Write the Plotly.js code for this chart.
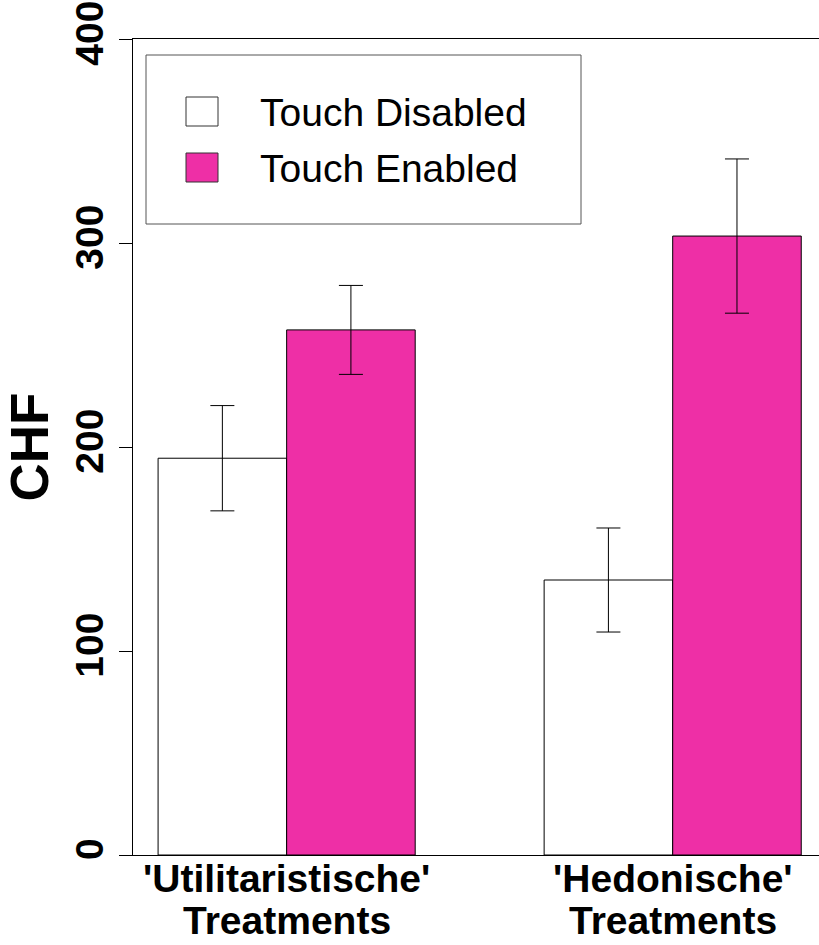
<!DOCTYPE html>
<html>
<head>
<meta charset="utf-8">
<script src="https://cdn.plot.ly/plotly-3.0.1.min.js"></script>
<style>
  html, body { margin: 0; padding: 0; background: #ffffff; }
  #chart { width: 819px; height: 945px; }
</style>
</head>
<body>
<div id="chart"></div>
<script>
// Treatment groups (category axis) and the second line of each label
const categories = ["'Utilitaristische'", "'Hedonische'"];
const labelLine2 = ["Treatments", "Treatments"];

// Series names
const seriesNames = ["Touch Disabled", "Touch Enabled"];

// Mean amount in CHF per group
const disabledMeans = [194.5, 134.8];
const enabledMeans = [257.4, 303.4];

// Error bar half-lengths (CHF)
const disabledErr = [25.8, 25.5];
const enabledErr = [21.8, 37.8];

// Y axis ticks
const yTicks = [0, 100, 200, 300, 400];

const PINK = '#EE2FA6';
const FONT = 'Liberation Sans, Arial, sans-serif';

// Plot-area geometry in pixels, used to place the hand-built legend
const W = 819, H = 945;
const M = { l: 133, r: 0, t: 39, b: 90 };
const pw = W - M.l - M.r, ph = H - M.t - M.b;
const px = x => (x - M.l) / pw;
const py = y => (H - M.b - y) / ph;

const errStyle = { type: 'data', visible: true, color: '#000000', thickness: 1, width: 12 };

const traces = [
  {
    type: 'bar', name: seriesNames[0], x: categories, y: disabledMeans,
    marker: { color: '#ffffff', line: { color: '#000000', width: 1 } },
    error_y: Object.assign({ array: disabledErr }, errStyle),
    showlegend: false, hoverinfo: 'none'
  },
  {
    type: 'bar', name: seriesNames[1], x: categories, y: enabledMeans,
    marker: { color: PINK, line: { color: '#000000', width: 1 } },
    error_y: Object.assign({ array: enabledErr }, errStyle),
    showlegend: false, hoverinfo: 'none'
  }
];

const annotations = [];
// two-line category labels under the axis
categories.forEach((c, i) => {
  annotations.push({
    x: c, xref: 'x', y: py(855), yref: 'paper', yanchor: 'top', xanchor: 'center',
    text: '<b>' + c + '</b>', showarrow: false,
    font: { family: FONT, size: 39, color: '#000' }
  });
  annotations.push({
    x: c, xref: 'x', y: py(897), yref: 'paper', yanchor: 'top', xanchor: 'center',
    text: '<b>' + labelLine2[i] + '</b>', showarrow: false,
    font: { family: FONT, size: 39, color: '#000' }
  });
});
// legend entries
const legendFills = ['#ffffff', PINK];
const legendRows = [112, 168];
const shapes = [
  { type: 'rect', xref: 'paper', yref: 'paper', x0: px(146), x1: px(581), y0: py(55), y1: py(224),
    line: { color: '#555555', width: 1 }, fillcolor: 'rgba(0,0,0,0)' }
];
seriesNames.forEach((n, i) => {
  const cy = legendRows[i];
  shapes.push({ type: 'rect', xref: 'paper', yref: 'paper', x0: px(186), x1: px(218),
    y0: py(cy - 15), y1: py(cy + 14), line: { color: '#333333', width: 1 }, fillcolor: legendFills[i] });
  annotations.push({ x: px(258), xref: 'paper', y: py(cy), yref: 'paper', xanchor: 'left', yanchor: 'middle',
    text: n, showarrow: false, font: { family: FONT, size: 39, color: '#000' } });
});

const layout = {
  width: W, height: H,
  margin: M,
  paper_bgcolor: '#ffffff', plot_bgcolor: '#ffffff',
  font: { family: FONT, color: '#000' },
  barmode: 'group', bargap: 0.334, bargroupgap: 0,
  showlegend: false,
  xaxis: {
    type: 'category', range: [-0.398, 1.379],
    showline: true, linecolor: '#000', linewidth: 1, mirror: true,
    ticks: '', showticklabels: false, showgrid: false, zeroline: false, fixedrange: true
  },
  yaxis: {
    range: [0, 400], tickvals: yTicks, ticktext: yTicks.map(v => '<b>' + v + '</b>'),
    tickangle: -90, ticks: 'outside', ticklen: 13, tickcolor: '#000', tickwidth: 1,
    tickfont: { family: FONT, size: 39, color: '#000' },
    showline: true, linecolor: '#000', linewidth: 1, mirror: false,
    showgrid: false, zeroline: false, fixedrange: true,
    title: { text: '<b>CHF</b>', font: { family: FONT, size: 53, color: '#000' }, standoff: 6 }
  },
  shapes: shapes,
  annotations: annotations
};

Plotly.newPlot('chart', traces, layout, { staticPlot: true, displayModeBar: false });
</script>
</body>
</html>
